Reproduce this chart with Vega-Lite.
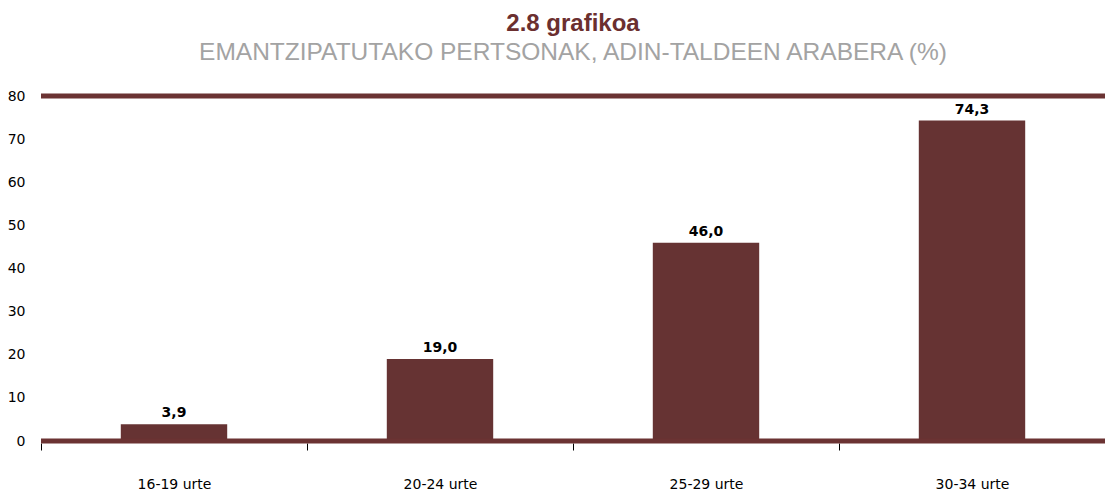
{
  "$schema": "https://vega.github.io/schema/vega-lite/v6.json",
  "width": 1064,
  "height": 345,
  "autosize": {"type": "none"},
  "padding": {"left": 41, "top": 96, "right": 0, "bottom": 50},
  "background": "white",
  "config": {
    "view": {"stroke": null},
    "locale": {"number": {"decimal": ",", "thousands": ".", "grouping": [3], "currency": ["", " €"]}}
  },
  "title": {
    "text": "2.8 grafikoa",
    "subtitle": "EMANTZIPATUTAKO PERTSONAK, ADIN-TALDEEN ARABERA (%)",
    "anchor": "middle",
    "frame": "group",
    "font": "Liberation Sans",
    "fontSize": 24,
    "fontWeight": "bold",
    "color": "#6b2f2f",
    "subtitleFont": "Liberation Sans",
    "subtitleFontSize": 24.5,
    "subtitleColor": "#a3a3a3",
    "subtitleFontWeight": "normal",
    "subtitlePadding": 5,
    "offset": 25
  },
  "data": {
    "values": [
      {"grupo": "16-19 urte", "balioa": 3.9},
      {"grupo": "20-24 urte", "balioa": 19.0},
      {"grupo": "25-29 urte", "balioa": 46.0},
      {"grupo": "30-34 urte", "balioa": 74.3}
    ]
  },
  "layer": [
    {
      "mark": {"type": "bar", "color": "#663333", "width": {"band": 0.4}},
      "encoding": {
        "x": {
          "field": "grupo",
          "type": "nominal",
          "sort": null,
          "scale": {"paddingInner": 0, "paddingOuter": 0},
          "axis": {
            "title": null,
            "domain": false,
            "ticks": true,
            "tickBand": "extent",
            "tickSize": 7,
            "tickColor": "#000000",
            "offset": 2,
            "labelAngle": 0,
            "labelPadding": 27,
            "labelFont": "DejaVu Sans",
            "labelFontSize": 14,
            "labelColor": "#000000"
          }
        },
        "y": {
          "field": "balioa",
          "type": "quantitative",
          "scale": {"domain": [0, 80], "nice": false},
          "axis": {
            "title": null,
            "domain": false,
            "ticks": false,
            "grid": false,
            "values": [0, 10, 20, 30, 40, 50, 60, 70, 80],
            "labelPadding": 16,
            "labelFont": "DejaVu Sans",
            "labelFontSize": 14,
            "labelColor": "#000000"
          }
        }
      }
    },
    {
      "mark": {"type": "text", "dy": -11, "font": "DejaVu Sans", "fontSize": 14, "fontWeight": "bold", "color": "#000000"},
      "encoding": {
        "x": {"field": "grupo", "type": "nominal", "sort": null},
        "y": {"field": "balioa", "type": "quantitative"},
        "text": {"field": "balioa", "type": "quantitative", "format": ".1f"}
      }
    },
    {
      "data": {"values": [{"v": 0}, {"v": 80}]},
      "mark": {"type": "rule", "color": "#6b3333", "strokeWidth": 5},
      "encoding": {
        "y": {"field": "v", "type": "quantitative"}
      }
    }
  ]
}
